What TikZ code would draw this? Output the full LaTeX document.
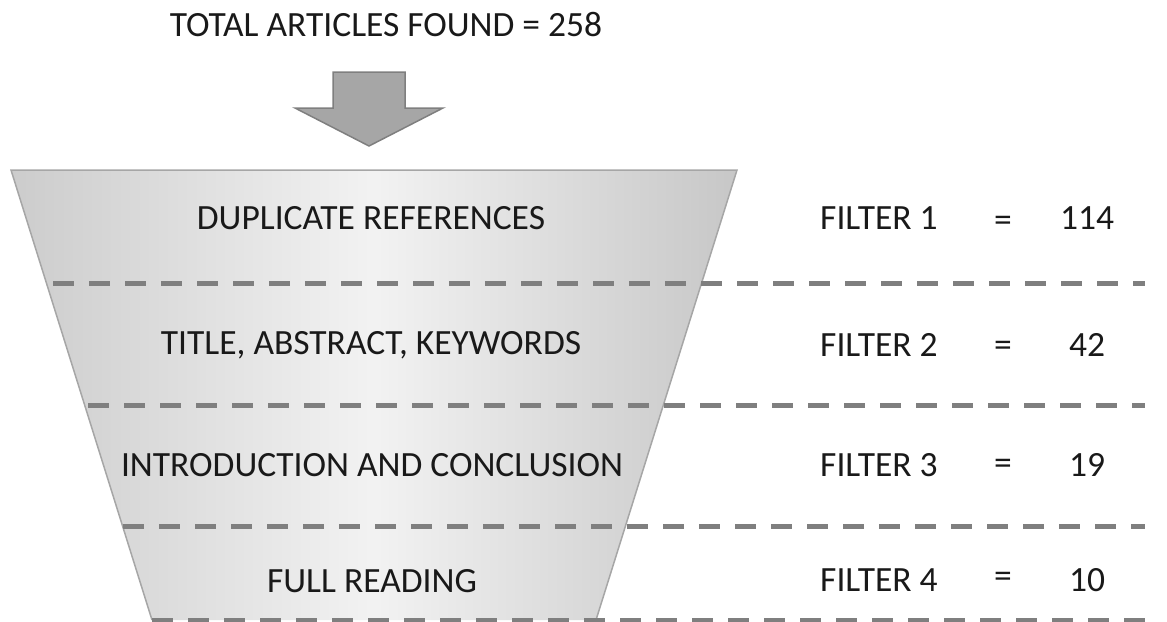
\documentclass[tikz,border=0pt]{standalone}
\usepackage{fontspec}
\setmainfont{Carlito}
\definecolor{arrowfill}{HTML}{A6A6A6}
\definecolor{arrowline}{HTML}{7F7F7F}
\definecolor{funnelline}{HTML}{A6A6A6}
\definecolor{dashgray}{HTML}{7F7F7F}
\begin{document}
\begin{tikzpicture}[x=1pt,y=-1pt,
  lbl/.style={font=\fontsize{35.5}{42}\selectfont, text=black!90, inner sep=0pt},
  sep/.style={draw=dashgray, line width=5pt, dash pattern=on 21pt off 15pt},
]
\useasboundingbox (0,0) rectangle (1167,621);
% title
\node[lbl] (title) at (386,25) {TOTAL ARTICLES FOUND = 258};
% arrow
\draw[fill=arrowfill, draw=arrowline, line width=1.5pt, line join=miter]
  (333,72) -- (405,72) -- (405,108) -- (443,108) -- (369,146) -- (295,108) -- (333,108) -- cycle;
% funnel
\shade[left color=black!20, right color=black!22, middle color=black!5]
  (11,170) -- (737,170) -- (596,620) -- (152,620) -- cycle;
\draw[draw=funnelline, line width=1.5pt, line join=miter]
  (152,620) -- (11,170) -- (737,170) -- (596,620);
% dashed separators
\coordinate (s1a) at (53,283);  \coordinate (s1b) at (1145,283);
\coordinate (s2a) at (88,405);  \coordinate (s2b) at (1145,405);
\coordinate (s3a) at (123,526); \coordinate (s3b) at (1145,526);
\coordinate (s4a) at (152,620); \coordinate (s4b) at (1145,620);
\draw[sep] (s1a) -- (s1b);
\draw[sep] (s2a) -- (s2b);
\draw[sep] (s3a) -- (s3b);
\draw[sep] (s4a) -- (s4b);
% funnel labels
\node[lbl] (t1) at (371,218) {DUPLICATE REFERENCES};
\node[lbl] (t2) at (371,345) {TITLE, ABSTRACT, KEYWORDS};
\node[lbl] (t3) at (372,465) {INTRODUCTION AND CONCLUSION};
\node[lbl] (t4) at (372,581) {FULL READING};
% filters
\node[lbl, anchor=west] (f1) at (820,218) {FILTER 1};
\node[lbl, anchor=west] (f2) at (820,345) {FILTER 2};
\node[lbl, anchor=west] (f3) at (820,465) {FILTER 3};
\node[lbl, anchor=west] (f4) at (820,580) {FILTER 4};
\node[lbl] (e1) at (1003,224) {=};
\node[lbl] (e2) at (1003,349) {=};
\node[lbl] (e3) at (1003,467) {=};
\node[lbl] (e4) at (1003,580) {=};
\node[lbl] (n1) at (1087,218) {114};
\node[lbl] (n2) at (1087,345) {42};
\node[lbl] (n3) at (1087,465) {19};
\node[lbl] (n4) at (1087,580) {10};
\end{tikzpicture}
\end{document}
